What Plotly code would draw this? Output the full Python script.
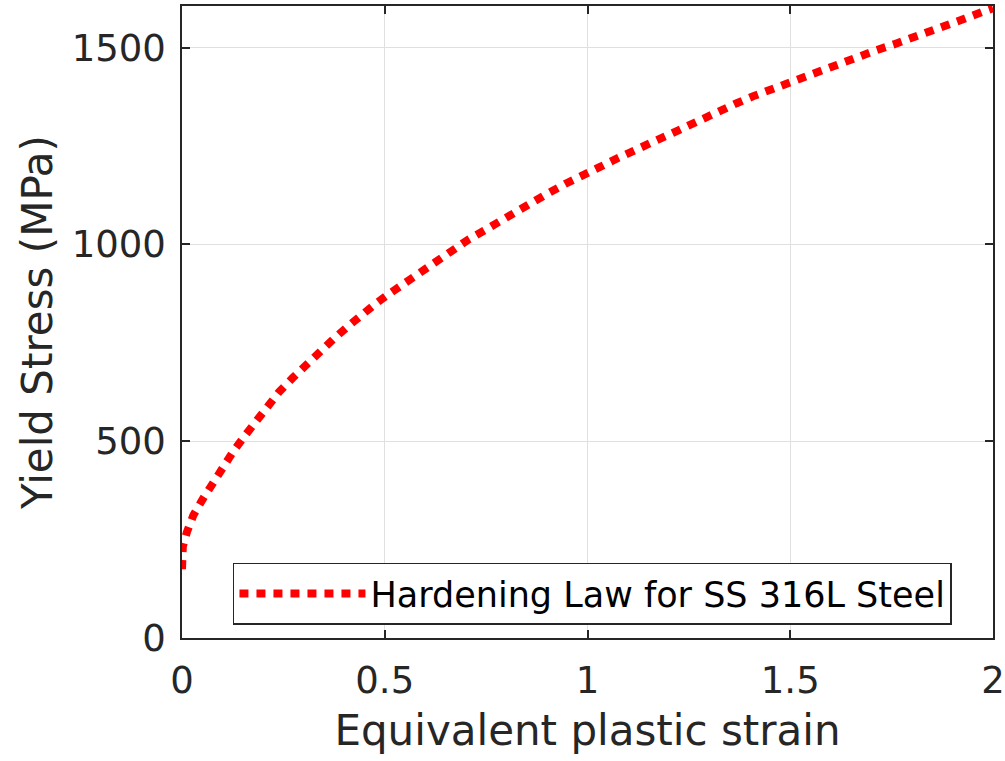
import plotly.graph_objects as go

strain = [0.0, 0.002, 0.012, 0.028, 0.053, 0.077, 0.102, 0.127, 0.155, 0.182, 0.209,
          0.240, 0.273, 0.306, 0.340, 0.373, 0.408, 0.443, 0.478, 0.517, 0.554, 0.591,
          0.629, 0.667, 0.707, 0.746, 0.787, 0.825, 0.866, 0.906, 0.947, 0.988, 1.031,
          1.072, 1.115, 1.156, 1.199, 1.240, 1.282, 1.325, 1.368, 1.409, 1.452, 1.497,
          1.539, 1.581, 1.627, 1.670, 1.713, 1.757, 1.799, 1.843, 1.886, 1.931, 1.974, 2.0]
stress = [175, 232, 269, 312, 356, 396, 435, 475, 514, 552, 589,
          626, 661, 695, 729, 759, 791, 822, 850, 879, 906, 933,
          962, 988, 1013, 1036, 1062, 1085, 1108, 1132, 1155, 1178, 1197,
          1218, 1236, 1258, 1278, 1299, 1318, 1339, 1359, 1377, 1394, 1410,
          1426, 1443, 1460, 1477, 1494, 1509, 1526, 1540, 1557, 1574, 1591, 1600]

x_ticks = [0, 0.5, 1, 1.5, 2]
x_tick_labels = ["0", "0.5", "1", "1.5", "2"]
y_ticks = [0, 500, 1000, 1500]
y_tick_labels = ["0", "500", "1000", "1500"]

FONT = "DejaVu Sans"
DARK = "#262626"

fig = go.Figure()
fig.add_trace(go.Scatter(
    x=strain, y=stress, mode="lines",
    name="Hardening Law for SS 316L Steel",
    line=dict(color="#ff0000", width=8, dash="9px,8px"),
))

axis_common = dict(
    showline=True, linecolor=DARK, linewidth=1.5, mirror="ticks",
    ticks="inside", ticklen=8, tickwidth=1.5, tickcolor=DARK,
    showgrid=True, gridcolor="#e0e0e0", gridwidth=1,
    zeroline=False, automargin=False,
    tickfont=dict(family=FONT, size=37, color=DARK),
)

fig.update_xaxes(
    range=[0, 2], tickvals=x_ticks, ticktext=x_tick_labels,
    title=dict(text="Equivalent plastic strain", font=dict(family=FONT, size=42, color=DARK), standoff=14),
    ticklabelstandoff=9,
    **axis_common,
)
fig.update_yaxes(
    range=[0, 1606], tickvals=y_ticks, ticktext=y_tick_labels,
    title=dict(text="Yield Stress (MPa)", font=dict(family=FONT, size=42, color=DARK), standoff=6),
    ticklabelstandoff=7,
    **axis_common,
)

fig.update_layout(
    width=1005, height=761,
    margin=dict(l=182, r=12, t=6, b=123),
    paper_bgcolor="white", plot_bgcolor="white",
    showlegend=True,
    legend=dict(
        x=0.9494, y=0.021, xanchor="right", yanchor="bottom",
        bgcolor="white", bordercolor=DARK, borderwidth=1.5,
        font=dict(family=FONT, size=35, color="black"),
        itemwidth=126,
    ),
)

fig.write_html("out.html", config={"displayModeBar": False},
               post_script="document.body.style.margin='0';")
